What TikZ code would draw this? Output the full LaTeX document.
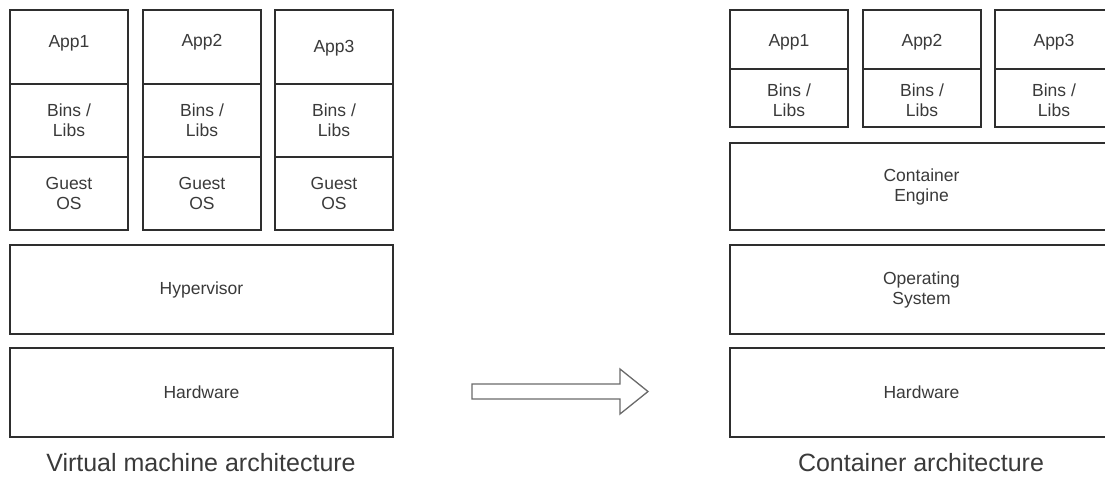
\documentclass[tikz,border=0pt]{standalone}
\usepackage{fontspec}
\setmainfont{Liberation Sans}
\definecolor{edge}{HTML}{2E2E2E}
\definecolor{ink}{HTML}{3A3A3A}
\definecolor{arrowgray}{HTML}{6A6A6A}
\begin{document}
\begin{tikzpicture}[x=1pt,y=-1pt,
  layer/.style={draw=edge, line width=1.2pt, fill=white, inner sep=0pt, outer sep=0pt,
    text=ink, font=\fontsize{17.5}{20}\selectfont, align=center, anchor=north west},
  colbox/.style={layer, minimum width=118pt},
  wide/.style={layer, minimum width=383pt, minimum height=89pt},
  boxtext/.style={text=ink, font=\fontsize{17.5}{20}\selectfont, align=center, inner sep=0pt, anchor=center},
  caption/.style={text=ink, font=\fontsize{25}{30}\selectfont, anchor=center}]
\useasboundingbox (0,0) rectangle (1105,480);
\clip (0,0) rectangle (1105,480);

% ---- virtual machine stack ----
\foreach \i/\x/\y in {1/10/43.5,2/143/42.5,3/275/48.5}{
  \node[colbox, minimum height=74pt] (vapp\i) at (\x,10) {};
  \node[boxtext] (vapp\i-t) at ({\x+59},\y) {App\i};
  \node[colbox, minimum height=73pt] (vbin\i) at (\x,84) {Bins /\\Libs};
  \node[colbox, minimum height=73pt] (vos\i)  at (\x,157) {Guest\\OS};
}
\node[wide] (hyper) at (10,245) {Hypervisor};
\node[wide] (vhw)   at (10,348) {Hardware};
\node[caption] (vcap) at (201,463) {Virtual machine architecture};

% ---- transition arrow ----
\draw[draw=arrowgray, line width=1.3pt, fill=white, line join=miter]
  (472,384) -- (620,384) -- (620,369) -- (648,391.5) -- (620,414)
  -- (620,399) -- (472,399) -- cycle;

% ---- container stack ----
\foreach \i/\x in {1/730,2/863,3/995}{
  \node[colbox, minimum height=59pt] (capp\i) at (\x,10) {};
  \node[boxtext] (capp\i-t) at ({\x+59},42.5) {App\i};
  \node[colbox, minimum height=58pt] (cbin\i) at (\x,69) {};
  \node[boxtext] (cbin\i-t) at ({\x+59},100) {Bins /\\Libs};
}
\node[wide, minimum height=87pt] (engine) at (730,143) {Container\\Engine};
\node[wide] (cos)  at (730,245) {Operating\\System};
\node[wide] (chw)  at (730,348) {Hardware};
\node[caption] (ccap) at (921,463) {Container architecture};
\end{tikzpicture}
\end{document}
